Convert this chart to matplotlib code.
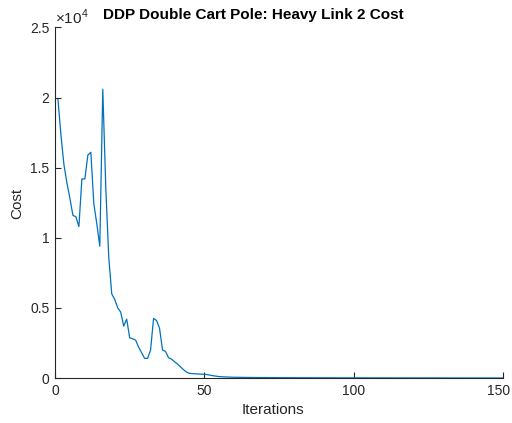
import matplotlib
matplotlib.use("Agg")
import matplotlib.pyplot as plt
import matplotlib.transforms as mtransforms

plt.rcParams['font.family'] = ['Liberation Sans', 'DejaVu Sans']
plt.rcParams['mathtext.fontset'] = 'custom'
plt.rcParams['mathtext.rm'] = 'Liberation Sans'

# cost per iteration (iterations 1..150)
cost_head = [19860, 17300, 15200, 13900, 12800, 11600, 11500, 10800, 14200, 14200,
             15900, 16100, 12430, 11000, 9400, 20600, 13600, 8600, 6000, 5600,
             5000, 4700, 3700, 4200, 2870, 2800, 2700, 2200, 1800, 1400,
             1400, 2000, 4250, 4100, 3550, 2000, 1900, 1450, 1350, 1160,
             1000, 800, 600, 430, 330, 310, 295, 285, 275, 265]
cost_mid = [240, 200, 160, 130, 100, 85, 75, 65, 58, 52,
            48, 45, 42, 40, 38, 36, 34, 32, 30, 28,
            27, 26, 25, 24, 23, 22, 21, 20, 19, 18,
            17, 16, 16, 15, 15, 14, 14, 13, 13, 12,
            12, 11, 11, 11, 10, 10, 10, 9, 9, 9]
cost_tail = [8, 8, 8, 7, 7, 7, 7, 6, 6, 6,
             6, 6, 5, 5, 5, 5, 5, 5, 4, 4,
             4, 4, 4, 4, 4, 3, 3, 3, 3, 3,
             3, 3, 3, 3, 2, 2, 2, 2, 2, 2,
             2, 2, 2, 2, 2, 2, 1, 1, 1, 1]
cost = cost_head + cost_mid + cost_tail
iterations = list(range(1, len(cost) + 1))

xticks = [0, 50, 100, 150]
yticks = [0, 5000, 10000, 15000, 20000, 25000]
ytick_labels = ['0', '0.5', '1', '1.5', '2', '2.5']

W, H = 512, 423
fig = plt.figure(figsize=(W / 100, H / 100), dpi=100)
ax = fig.add_axes([55 / W, 1 - 378 / H, 448 / W, 350.5 / H])

ax.plot(iterations, cost, color='#0072BD', lw=0.9)

ax.set_xlim(0, 150)
ax.set_ylim(0, 25000)
ax.set_xticks(xticks)
ax.set_yticks(yticks)
ax.set_yticklabels(ytick_labels)

dark = '#262626'
for side in ['top', 'right']:
    ax.spines[side].set_visible(False)
for side in ['left', 'bottom']:
    ax.spines[side].set_color(dark)
    ax.spines[side].set_linewidth(0.8)
ax.tick_params(direction='in', length=4.5, width=0.8, colors=dark,
               labelsize=10, pad=4)

# last x label sits right at the figure edge, nudge it in a bit
last = ax.get_xticklabels()[-1]
last.set_transform(last.get_transform() +
                   mtransforms.ScaledTranslation(-4 / 100, 0, fig.dpi_scale_trans))

fig.text(273 / W, 1 - 410 / H, 'Iterations', ha='center', va='center',
         fontsize=11, color=dark)
fig.text(17 / W, 1 - 203 / H, 'Cost', ha='center', va='center',
         rotation=90, fontsize=11, color=dark)
fig.text(253 / W, 1 - 15 / H, 'DDP Double Cart Pole: Heavy Link 2 Cost',
         ha='center', va='center', fontsize=11, fontweight='bold', color='black')
fig.text(55 / W, 1 - 17 / H, r'$\times10^{4}$', ha='left', va='center',
         fontsize=11, color=dark)

fig.savefig('out.png', dpi=100)
